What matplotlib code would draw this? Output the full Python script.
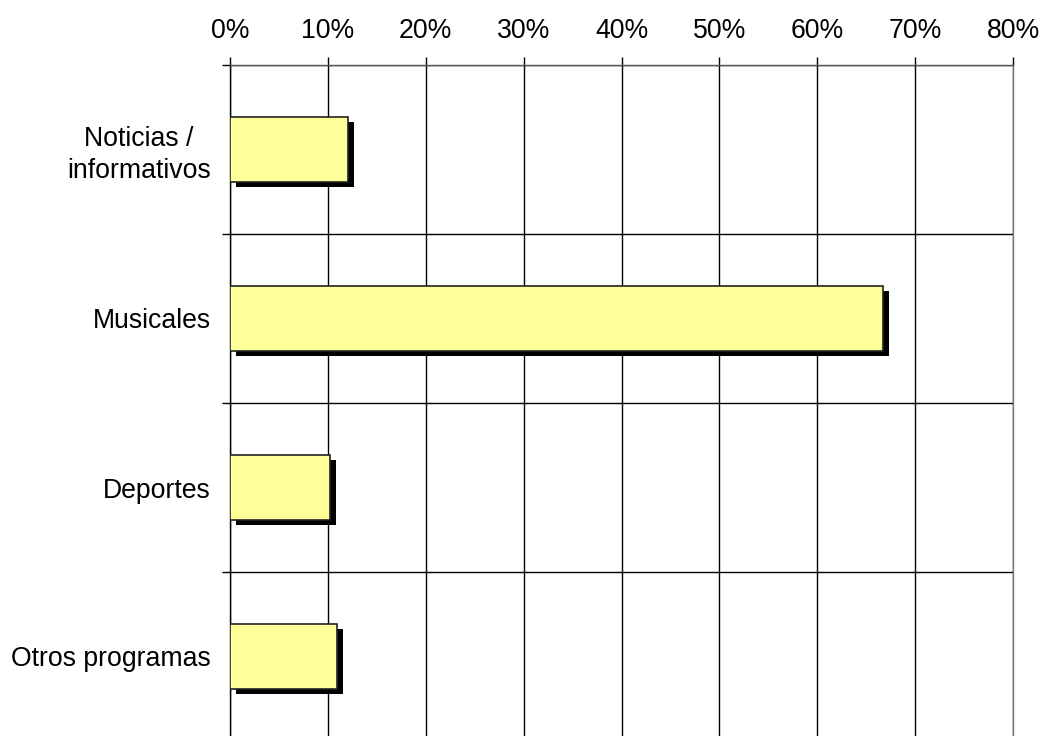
import numpy as np
import matplotlib
matplotlib.use('Agg')
import matplotlib.pyplot as plt
import matplotlib.patheffects as pe
from matplotlib.ticker import FixedLocator, PercentFormatter

categorias = ['Noticias /\ninformativos', 'Musicales', 'Deportes', 'Otros programas']
porcentajes = [12.1, 66.7, 10.2, 10.9]
xticks = [0, 10, 20, 30, 40, 50, 60, 70, 80]

plt.rcParams['font.family'] = ['Liberation Sans', 'DejaVu Sans']

fig = plt.figure(figsize=(10.42, 7.36), dpi=100)
ax = fig.add_axes([230/1042, -5/736, 783/1042, 676/736])

y = np.arange(len(categorias)) + 0.5
shadow = [pe.SimplePatchShadow(offset=(4.3, -3.6), shadow_rgbFace='black', alpha=1.0), pe.Normal()]
bars = ax.barh(y, porcentajes, height=0.39, color='#FFFF99', edgecolor='#222222',
               linewidth=1.2, zorder=3)
for b in bars:
    b.set_path_effects(shadow)

ax.set_xlim(0, 80)
ax.set_ylim(len(categorias), 0)
ax.xaxis.set_major_locator(FixedLocator(xticks))
ax.xaxis.set_major_formatter(PercentFormatter(decimals=0))
ax.xaxis.tick_top()
ax.tick_params(axis='x', which='major', length=6, width=1, color='black',
               pad=9, labelsize=19.2, direction='out')

ax.set_yticks(y)
ax.set_yticklabels(categorias)
ax.set_yticks(np.arange(len(categorias) + 1), minor=True)
ax.tick_params(axis='y', which='major', length=0, pad=14, labelsize=19.2)
ax.tick_params(axis='y', which='minor', length=6, width=1, color='black', direction='out')
for lab in ax.get_yticklabels():
    lab.set_multialignment('center')
    lab.set_linespacing(1.3)

ax.grid(True, axis='x', which='major', color='black', lw=1, zorder=1)
ax.grid(True, axis='y', which='minor', color='black', lw=1, zorder=1)

ax.spines['bottom'].set_visible(False)
ax.spines['left'].set_color('black')
ax.spines['right'].set_color('#777777')
ax.spines['top'].set_color('#555555')
for s in ['left', 'right', 'top']:
    ax.spines[s].set_linewidth(1)

fig.savefig('out.png', dpi=100)
